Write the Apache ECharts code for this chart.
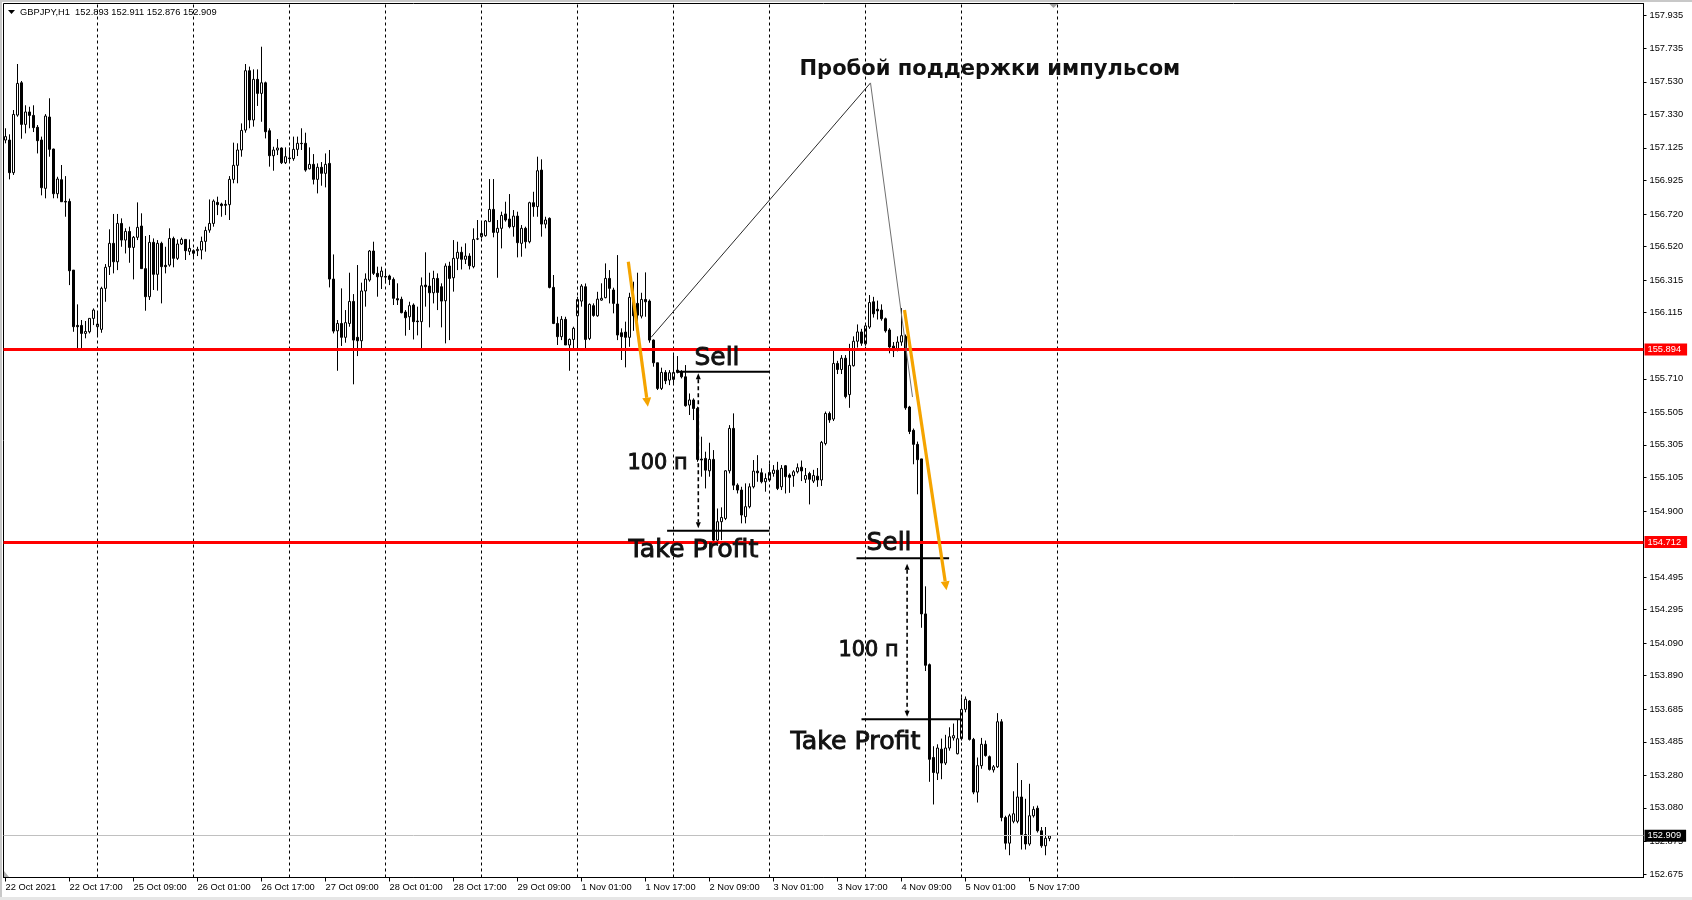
<!DOCTYPE html>
<html><head><meta charset="utf-8">
<script src="https://cdn.jsdelivr.net/npm/echarts@6/dist/echarts.min.js"></script>
<style>html,body{margin:0;padding:0;background:#fff;}#c{width:1692px;height:900px;}</style>
</head><body><div id="c"></div>
<script>
// ---------- data ----------
const symbolTitle = 'GBPJPY,H1';
const lastOHLC = ['152.893', '152.911', '152.876', '152.909'];
const timeLabels = ['22 Oct 2021','22 Oct 17:00','25 Oct 09:00','26 Oct 01:00','26 Oct 17:00','27 Oct 09:00','28 Oct 01:00','28 Oct 17:00','29 Oct 09:00','1 Nov 01:00','1 Nov 17:00','2 Nov 09:00','3 Nov 01:00','3 Nov 17:00','4 Nov 09:00','5 Nov 01:00','5 Nov 17:00'];
const opens = [
157.173,157.173,156.973,157.326,157.524,157.269,157.345,157.324,157.251,157.173,
156.877,157.314,157.118,156.844,156.930,156.797,156.797,156.376,156.037,156.037,
155.988,155.998,156.080,156.029,156.013,156.264,156.397,156.540,156.427,156.662,
156.560,156.613,156.515,156.577,156.646,156.385,156.213,156.546,156.350,156.540,
156.405,156.407,156.570,156.448,156.536,156.564,156.491,156.495,156.495,156.499,
156.552,156.621,156.662,156.791,156.781,156.779,156.777,156.932,157.018,157.112,
157.234,157.598,157.296,157.545,157.459,157.524,157.230,157.077,157.112,157.124,
157.034,157.063,157.059,157.116,157.153,157.153,156.997,157.024,156.932,157.006,
156.969,157.030,156.321,156.004,156.049,155.964,156.049,156.184,155.964,155.943,
156.248,156.315,156.493,156.356,156.335,156.337,156.340,156.319,156.201,156.197,
156.119,156.090,156.162,156.064,156.060,156.284,156.278,156.237,156.325,156.274,
156.188,156.401,156.329,156.448,156.485,156.442,156.462,156.397,156.566,156.581,
156.587,156.673,156.748,156.607,156.632,156.720,156.689,156.642,156.707,156.540,
156.632,156.550,156.789,156.765,156.989,156.658,156.693,156.270,156.049,155.968,
156.074,155.917,155.951,156.096,156.186,156.274,155.957,156.158,156.096,156.192,
156.207,156.325,156.254,156.168,155.992,155.996,155.964,156.192,156.172,156.094,
156.196,156.186,155.947,155.808,155.651,155.749,155.702,155.706,155.763,155.751,
155.722,155.549,155.580,155.528,155.218,155.222,155.146,155.216,154.721,154.834,
154.854,155.146,155.406,155.058,155.028,154.865,154.926,155.048,155.144,155.134,
155.079,155.089,155.130,155.150,155.048,155.177,155.120,155.116,155.140,155.168,
155.094,155.129,155.083,155.113,155.090,155.313,155.497,155.463,155.804,155.767,
155.836,155.613,155.790,155.940,155.997,155.924,156.027,156.182,156.136,156.131,
156.078,156.009,155.910,155.889,155.935,155.970,155.537,155.394,155.308,155.219,
154.269,153.958,153.389,153.293,153.440,153.355,153.447,153.509,153.412,153.504,
153.684,153.735,153.500,153.177,153.339,153.470,153.394,153.313,153.332,153.608,
153.021,152.864,152.998,152.998,153.147,152.917,152.859,153.032,153.078,152.940,
152.848,152.893];
const closes = [
157.194,156.973,157.330,157.520,157.269,157.345,157.324,157.249,157.169,156.881,
157.320,157.116,156.844,156.934,156.795,156.793,156.372,156.029,156.029,155.988,
156.000,156.080,156.131,156.045,156.264,156.393,156.540,156.427,156.662,156.560,
156.613,156.515,156.577,156.638,156.385,156.213,156.546,156.350,156.540,156.397,
156.397,156.570,156.448,156.536,156.564,156.495,156.509,156.479,156.503,156.552,
156.619,156.662,156.799,156.777,156.771,156.773,156.932,157.018,157.112,157.232,
157.598,157.296,157.545,157.459,157.524,157.224,157.077,157.112,157.124,157.034,
157.071,157.059,157.116,157.153,157.151,156.989,157.024,156.932,157.006,156.969,
157.024,156.321,156.002,156.049,155.964,156.054,156.184,155.947,155.943,156.248,
156.321,156.493,156.356,156.335,156.370,156.333,156.319,156.203,156.193,156.115,
156.084,156.158,156.060,156.060,156.280,156.274,156.237,156.325,156.239,156.186,
156.401,156.325,156.448,156.485,156.442,156.462,156.403,156.564,156.568,156.601,
156.677,156.748,156.607,156.632,156.711,156.683,156.642,156.707,156.544,156.632,
156.550,156.789,156.765,156.985,156.658,156.683,156.270,156.049,155.968,156.074,
155.917,155.951,156.019,156.196,156.278,155.951,156.166,156.098,156.198,156.203,
156.325,156.264,156.172,155.978,155.968,155.964,156.209,156.096,156.100,156.196,
156.182,155.947,155.808,155.651,155.749,155.698,155.747,155.749,155.749,155.722,
155.545,155.580,155.528,155.216,155.212,155.150,155.216,154.721,154.834,154.860,
155.146,155.406,155.058,155.028,154.875,154.926,155.048,155.144,155.134,155.079,
155.099,155.136,155.150,155.038,155.161,155.110,155.106,155.140,155.165,155.145,
155.117,155.094,155.117,155.090,155.320,155.497,155.458,155.804,155.767,155.836,
155.601,155.792,155.940,155.997,155.928,156.034,156.177,156.108,156.126,156.078,
156.004,155.905,155.882,155.935,155.974,155.532,155.387,155.308,155.214,154.269,
153.954,153.378,153.297,153.447,153.355,153.447,153.516,153.523,153.504,153.684,
153.746,153.500,153.177,153.339,153.470,153.401,153.316,153.332,153.608,153.021,
152.864,153.032,153.044,153.147,152.917,152.859,153.032,153.071,152.940,152.848,
152.894,152.909];
const lows = [
157.153,156.932,156.959,157.316,157.181,157.214,157.245,157.222,157.091,156.834,
156.816,157.071,156.816,156.816,156.795,156.703,156.284,155.998,155.896,155.896,
155.958,155.988,156.039,155.968,155.992,156.182,156.346,156.356,156.376,156.519,
156.478,156.421,156.319,156.560,156.385,156.127,156.193,156.254,156.250,156.172,
156.356,156.397,156.393,156.438,156.530,156.438,156.468,156.448,156.462,156.442,
156.489,156.605,156.642,156.713,156.703,156.713,156.683,156.908,156.908,157.071,
157.218,157.245,157.255,157.382,157.285,157.183,157.010,156.985,157.081,157.026,
157.026,157.034,157.046,157.075,157.112,156.979,156.993,156.901,156.846,156.893,
156.883,156.270,155.988,155.759,155.911,155.931,156.029,155.676,155.849,155.890,
156.152,156.305,156.346,156.213,156.260,156.295,156.284,156.162,156.162,156.111,
155.974,156.009,155.951,155.976,155.890,156.152,156.025,156.172,156.131,156.025,
155.927,155.947,156.244,156.376,156.380,156.413,156.380,156.387,156.560,156.570,
156.581,156.673,156.577,156.329,156.509,156.673,156.632,156.581,156.454,156.458,
156.509,156.540,156.703,156.703,156.581,156.632,156.264,156.045,155.917,155.947,
155.917,155.759,155.896,155.896,156.152,155.896,155.947,156.090,156.090,156.188,
156.203,156.172,156.111,155.947,155.825,155.780,155.906,156.004,156.060,156.080,
156.090,155.931,155.784,155.641,155.641,155.677,155.671,155.671,155.743,155.712,
155.539,155.488,155.457,155.201,155.110,155.038,155.110,154.701,154.701,154.721,
154.844,155.130,155.028,155.007,154.824,154.824,154.916,155.038,155.079,155.069,
155.018,155.079,155.110,155.028,155.028,155.007,155.011,155.048,155.130,155.083,
155.071,154.940,155.071,155.048,155.053,155.302,155.440,155.451,155.739,155.739,
155.590,155.532,155.785,155.901,155.912,155.912,156.016,156.085,156.073,156.066,
155.993,155.866,155.843,155.878,155.912,155.520,155.371,155.186,155.002,154.184,
153.919,153.240,153.101,153.251,153.256,153.343,153.431,153.493,153.408,153.493,
153.666,153.493,153.164,153.113,153.320,153.394,153.309,153.297,153.325,152.998,
152.825,152.790,152.986,152.986,152.825,152.825,152.848,153.021,152.929,152.836,
152.790,152.876];
const highs = [
157.245,157.208,157.357,157.639,157.535,157.386,157.377,157.386,157.265,157.194,
157.332,157.429,157.120,156.948,157.020,156.952,156.814,156.376,156.166,156.070,
156.064,156.080,156.141,156.121,156.274,156.413,156.626,156.720,156.720,156.693,
156.632,156.642,156.585,156.791,156.724,156.585,156.591,156.570,156.560,156.550,
156.519,156.632,156.581,156.564,156.575,156.564,156.564,156.503,156.519,156.581,
156.642,156.809,156.809,156.826,156.789,156.805,156.952,157.157,157.153,157.275,
157.639,157.623,157.606,157.606,157.745,157.531,157.245,157.132,157.179,157.128,
157.128,157.128,157.194,157.194,157.245,157.218,157.128,157.087,157.030,157.038,
157.091,157.112,156.472,156.070,156.264,156.131,156.360,156.229,156.407,156.299,
156.356,156.499,156.550,156.397,156.397,156.376,156.348,156.331,156.295,156.213,
156.131,156.182,156.172,156.152,156.331,156.485,156.360,156.372,156.356,156.295,
156.417,156.427,156.560,156.550,156.519,156.540,156.479,156.632,156.683,156.669,
156.683,156.934,156.934,156.683,156.734,156.795,156.842,156.744,156.734,156.652,
156.642,156.795,156.856,157.071,157.055,156.703,156.699,156.346,156.090,156.094,
156.090,155.957,156.029,156.213,156.290,156.294,156.172,156.172,156.243,156.295,
156.417,156.376,156.268,156.468,156.019,156.060,156.237,156.305,156.360,156.237,
156.362,156.196,155.951,155.808,155.778,155.763,155.763,155.855,155.849,155.763,
155.794,155.620,155.590,155.539,155.355,155.263,155.318,155.273,154.915,154.922,
155.150,155.426,155.498,155.069,155.048,155.069,155.069,155.212,155.242,155.161,
155.130,155.191,155.181,155.201,155.181,155.181,155.130,155.150,155.191,155.209,
155.163,155.140,155.152,155.163,155.329,155.509,155.509,155.889,155.820,155.855,
155.855,155.924,155.970,156.043,156.016,156.050,156.223,156.212,156.189,156.166,
156.085,156.020,155.935,155.970,156.143,155.981,155.544,155.405,155.325,155.219,
154.438,153.965,153.458,153.470,153.505,153.528,153.574,153.597,153.620,153.758,
153.763,153.740,153.509,153.389,153.509,153.493,153.401,153.343,153.661,153.624,
153.032,153.044,153.182,153.355,153.251,153.136,153.228,153.090,153.094,152.963,
152.963,152.911];
const yTickValues = [157.935,157.735,157.530,157.330,157.125,156.925,156.720,156.520,156.315,156.115,155.710,155.505,155.305,155.105,154.900,154.495,154.295,154.090,153.890,153.685,153.485,153.280,153.080,152.875,152.675];
const levelPrices = [155.894, 154.712];
const currentPrice = 152.909;
const dayStartBars = [23,47,71,95,119,143,167,191,215,239,263];

// annotations (bar index, price)
const titleText = 'Пробой поддержки импульсом';
const annoTexts = [
  {text: titleText, at: [198.5, 157.621], width: 381, weight: 'bold', stroke: 0},
  {text: 'Sell', at: [172.25, 155.850], width: 45, stroke: 0.9},
  {text: '100 п', at: [155.5, 155.203], width: 60, stroke: 0.9},
  {text: 'Take Profit', at: [155.75, 154.673], width: 130, stroke: 0.9},
  {text: 'Sell', at: [215.25, 154.716], width: 45, stroke: 0.9},
  {text: '100 п', at: [208.25, 154.060], width: 60, stroke: 0.9},
  {text: 'Take Profit', at: [196.25, 153.496], width: 130, stroke: 0.9}
];
const pointerLines = [
  {from: [216.25, 157.523], to: [161.4, 155.964], color: '#2a2a2a'},
  {from: [216.25, 157.523], to: [226.75, 155.598], color: '#707070'}
];
const trendArrows = [
  {from: [155.7, 156.427], to: [160.6, 155.539]},
  {from: [224.75, 156.131], to: [235.25, 154.414]}
];
const orderLines = [
  {x1: 168, x2: 191, p: 155.753},
  {x1: 165.4, x2: 191, p: 154.779},
  {x1: 212.75, x2: 235.9, p: 154.610},
  {x1: 214, x2: 238.75, p: 153.624}
];
const distanceArrows = [
  {x: 173.2, p1: 155.744, p2: 154.794},
  {x: 225.4, p1: 154.576, p2: 153.638}
];

// ---------- chart ----------
const N_SLOTS = 410;
const categories = Array.from({length: N_SLOTS}, (_, i) => String(i));
const candleData = opens.map((o, i) => [o, closes[i], lows[i], highs[i]]);
const isLabelIdx = (i) => i % 16 === 0 && (i / 16) < timeLabels.length;
const AXIS_FONT = 'Liberation Sans';

const chart = echarts.init(document.getElementById('c'), null, {renderer: 'canvas'});

const option = {
  animation: false,
  backgroundColor: '#ffffff',
  grid: {left: 3.5, right: 48.5, top: 3.5, bottom: 22.5, show: true, borderColor: '#000', borderWidth: 1, backgroundColor: '#ffffff'},
  xAxis: {
    type: 'category', data: categories, boundaryGap: true,
    axisLine: {show: true, lineStyle: {color: '#000', width: 1}},
    axisTick: {show: true, alignWithLabel: true, length: 4, interval: (i) => isLabelIdx(i), lineStyle: {color: '#000'}},
    axisLabel: {interval: (i) => isLabelIdx(i), formatter: (v, i) => (isLabelIdx(i) ? timeLabels[i / 16] : ''),
      align: 'left', margin: 5, fontSize: 9.3, color: '#000', fontFamily: AXIS_FONT},
    splitLine: {show: false}
  },
  yAxis: {
    type: 'value', position: 'right', min: 152.6536, max: 158.0098,
    axisLine: {show: true, lineStyle: {color: '#000', width: 1}},
    axisTick: {show: true, length: 3, customValues: yTickValues, lineStyle: {color: '#000'}},
    axisLabel: {customValues: yTickValues, formatter: (v) => Number(v).toFixed(3), margin: 6, fontSize: 9.3, color: '#000', fontFamily: AXIS_FONT},
    splitLine: {show: false}
  },
  series: [
    {
      type: 'line', data: [], z: 1, silent: true,
      markLine: {silent: true, symbol: 'none', animation: false, label: {show: false},
        lineStyle: {color: '#000', type: [3, 3], width: 1},
        data: dayStartBars.map(i => ({xAxis: i}))}
    },
    {
      type: 'candlestick', data: candleData, barWidth: 2, z: 3,
      itemStyle: {color: '#ffffff', color0: '#000000', borderColor: '#000000', borderColor0: '#000000', borderColorDoji: '#000000', borderWidth: 1}
    },
    {
      type: 'line', data: [], z: 6, silent: true,
      markLine: {silent: true, symbol: 'none', animation: false,
        data: levelPrices.map(p => ({
          yAxis: p,
          lineStyle: {color: '#ff0000', width: 3, type: 'solid'},
          label: {show: true, position: 'end', distance: 1, formatter: p.toFixed(3), color: '#fff', backgroundColor: '#ff0000',
            padding: [1, 6, 1, 3], fontSize: 9.3, fontFamily: AXIS_FONT, lineHeight: 10}
        })).concat([{
          yAxis: currentPrice,
          lineStyle: {color: '#c0c0c0', width: 1, type: 'solid'},
          label: {show: true, position: 'end', distance: 1, formatter: lastOHLC[3], color: '#fff', backgroundColor: '#000',
            padding: [1, 5, 1, 3], fontSize: 9.3, fontFamily: AXIS_FONT, lineHeight: 10}
        }])
      }
    }
  ]
};
chart.setOption(option);

// ---------- annotations ----------
function px(idx, price) {
  const a = chart.convertToPixel({gridIndex: 0}, [0, price]);
  const b = chart.convertToPixel({gridIndex: 0}, [1, price]);
  return [a[0] + (b[0] - a[0]) * idx, a[1]];
}
const measureCtx = document.createElement('canvas').getContext('2d');
function fitSize(text, family, weight, target) {
  measureCtx.font = weight + ' 24px "' + family + '"';
  const w = measureCtx.measureText(text).width;
  return 24 * target / w;
}
function arrowHead(from, to, len, half) {
  const dx = to[0] - from[0], dy = to[1] - from[1];
  const d = Math.hypot(dx, dy);
  const ux = dx / d, uy = dy / d;
  const bx = to[0] - ux * len, by = to[1] - uy * len;
  return {points: [[to[0], to[1]], [bx - uy * half, by + ux * half], [bx + uy * half, by - ux * half]], base: [bx, by]};
}

const g = [];
// outer window hints
g.push({type: 'rect', shape: {x: 0, y: 0, width: 1692, height: 2}, style: {fill: '#c8c8c8'}, silent: true, z: 100});
g.push({type: 'rect', shape: {x: 0, y: 0, width: 2, height: 900}, style: {fill: '#c8c8c8'}, silent: true, z: 100});
g.push({type: 'rect', shape: {x: 0, y: 897, width: 1692, height: 3}, style: {fill: '#e6e6e6'}, silent: true, z: 100});
// header
g.push({type: 'polygon', shape: {points: [[8, 10], [15, 10], [11.5, 14]]}, style: {fill: '#000'}, silent: true, z: 100});
g.push({type: 'text', x: 20, y: 12.5, style: {text: symbolTitle + '  ' + lastOHLC.join(' '), font: '9.3px "' + AXIS_FONT + '"', fill: '#000', verticalAlign: 'middle', align: 'left'}, silent: true, z: 100});
// chart-shift marker
const shiftX = px(262, 158)[0];
g.push({type: 'polygon', shape: {points: [[shiftX - 4, 4], [shiftX + 4, 4], [shiftX, 8]]}, style: {fill: '#a0a0a0'}, silent: true, z: 100});
g.push({type: 'polygon', shape: {points: [[4, 871], [4, 877], [9, 877]]}, style: {fill: '#b0b0b0'}, silent: true, z: 100});

// pointer lines
pointerLines.forEach(l => {
  const a = px(l.from[0], l.from[1]), b = px(l.to[0], l.to[1]);
  g.push({type: 'line', shape: {x1: a[0], y1: a[1], x2: b[0], y2: b[1]}, style: {stroke: l.color, lineWidth: 1}, silent: true, z: 90});
});
// order lines
orderLines.forEach(l => {
  const a = px(l.x1, l.p), b = px(l.x2, l.p);
  g.push({type: 'line', shape: {x1: a[0], y1: a[1], x2: b[0], y2: b[1]}, style: {stroke: '#000', lineWidth: 2}, silent: true, z: 90});
});
// distance arrows (dashed, both ends)
distanceArrows.forEach(d => {
  const a = px(d.x, d.p1), b = px(d.x, d.p2);
  const h1 = arrowHead(b, a, 6, 2.5), h2 = arrowHead(a, b, 6, 2.5);
  g.push({type: 'line', shape: {x1: h1.base[0], y1: h1.base[1], x2: h2.base[0], y2: h2.base[1]}, style: {stroke: '#000', lineWidth: 1.6, lineDash: [4, 3]}, silent: true, z: 90});
  g.push({type: 'polygon', shape: {points: h1.points}, style: {fill: '#000'}, silent: true, z: 90});
  g.push({type: 'polygon', shape: {points: h2.points}, style: {fill: '#000'}, silent: true, z: 90});
});
// orange trend arrows
trendArrows.forEach(t => {
  const a = px(t.from[0], t.from[1]), b = px(t.to[0], t.to[1]);
  const h = arrowHead(a, b, 9, 4.5);
  g.push({type: 'line', shape: {x1: a[0], y1: a[1], x2: h.base[0], y2: h.base[1]}, style: {stroke: '#f5a400', lineWidth: 3.2}, silent: true, z: 91});
  g.push({type: 'polygon', shape: {points: h.points}, style: {fill: '#f5a400'}, silent: true, z: 91});
});
// texts
annoTexts.forEach(t => {
  const fam = 'DejaVu Sans';
  const w = t.weight || 'normal';
  const size = fitSize(t.text, fam, w, t.width);
  const p = px(t.at[0], t.at[1]);
  const style = {text: t.text, font: w + ' ' + size.toFixed(2) + 'px "' + fam + '"', fill: '#111', verticalAlign: 'middle', align: 'left'};
  if (t.stroke) { style.stroke = '#111'; style.lineWidth = t.stroke; }
  g.push({type: 'text', x: p[0], y: p[1] + size * 0.1, style: style, silent: true, z: 95});
});
chart.setOption({graphic: {elements: g}});
</script>
</body></html>
